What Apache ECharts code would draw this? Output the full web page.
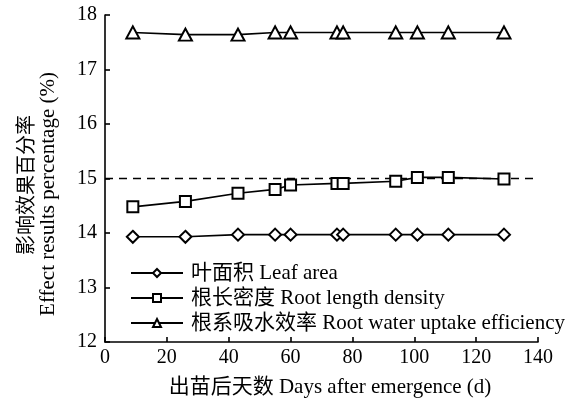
<!DOCTYPE html>
<html><head><meta charset="utf-8">
<script src="https://cdn.jsdelivr.net/npm/echarts@6/dist/echarts.min.js"></script>
<style>html,body{margin:0;padding:0;background:#fff}#c{width:578px;height:403px}</style>
</head><body><div id="c"></div>
<script>
const days = [9, 26, 43, 55, 60, 75, 77, 94, 101, 111, 129];
const leafArea = [13.93, 13.93, 13.97, 13.97, 13.97, 13.97, 13.97, 13.97, 13.97, 13.97, 13.97];
const rootLengthDensity = [14.48, 14.58, 14.73, 14.80, 14.88, 14.91, 14.91, 14.95, 15.02, 15.02, 14.99];
const rootWaterUptake = [17.68, 17.64, 17.64, 17.68, 17.68, 17.68, 17.68, 17.68, 17.68, 17.68, 17.68];
const refLineX = [0, 140];
const refLineY = [15, 15];
const seriesNames = ['叶面积 Leaf area', '根长密度 Root length density', '根系吸水效率 Root water uptake efficiency'];
const xTicks = {min: 0, max: 140, interval: 20};
const yTicks = {min: 12, max: 18, interval: 1};

const FONT = '"Liberation Serif", "Times New Roman", "Noto Sans CJK SC", serif';
const pair = (xs, ys) => xs.map((x, i) => [x, ys[i]]);

const chart = echarts.init(document.getElementById('c'), null, {renderer: 'canvas'});
const lineStyle = {color: '#000', width: 1.6};
chart.setOption({
  animation: false,
  backgroundColor: '#fff',
  grid: {left: 105, right: 40, top: 15, bottom: 61},
  xAxis: {
    type: 'value', min: xTicks.min, max: xTicks.max, interval: xTicks.interval,
    axisLine: {show: true, onZero: false, lineStyle: {color: '#000', width: 1.6}},
    axisTick: {show: true, inside: true, length: 5, lineStyle: {color: '#000', width: 1.6}},
    splitLine: {show: false},
    axisLabel: {color: '#000', fontSize: 20, fontFamily: FONT, margin: 6},
    name: '出苗后天数 Days after emergence (d)',
    nameLocation: 'middle', nameGap: 35,
    nameTextStyle: {color: '#000', fontSize: 21, fontFamily: FONT, padding: [0, 0, 0, 17]}
  },
  yAxis: {
    type: 'value', min: yTicks.min, max: yTicks.max, interval: yTicks.interval,
    axisLine: {show: true, onZero: false, lineStyle: {color: '#000', width: 1.6}},
    axisTick: {show: true, inside: true, length: 5, lineStyle: {color: '#000', width: 1.6}},
    splitLine: {show: false},
    axisLabel: {color: '#000', fontSize: 20, fontFamily: FONT, margin: 8}
  },
  graphic: [
    {type: 'text', x: 28, y: 185, rotation: Math.PI / 2,
     style: {text: '影响效果百分率', fill: '#000', font: '20px ' + FONT, align: 'center', verticalAlign: 'middle'}},
    {type: 'text', x: 48, y: 194, rotation: Math.PI / 2,
     style: {text: 'Effect results percentage (%)', fill: '#000', font: '21px ' + FONT, align: 'center', verticalAlign: 'middle'}}
  ],
  legend: {
    orient: 'vertical', left: 125, top: 257,
    itemWidth: 52, itemHeight: 10, itemGap: 3,
    data: seriesNames,
    textStyle: {color: '#000', fontSize: 21, fontFamily: FONT, lineHeight: 22, padding: [0, 0, 0, 3]}
  },
  series: [
    {name: seriesNames[0], type: 'line', data: pair(days, leafArea), symbol: 'emptyDiamond', symbolSize: 12,
     lineStyle: lineStyle, itemStyle: {color: '#000', borderWidth: 1.5}},
    {name: seriesNames[1], type: 'line', data: pair(days, rootLengthDensity), symbol: 'emptyRect', symbolSize: 11,
     lineStyle: lineStyle, itemStyle: {color: '#000', borderWidth: 1.5}},
    {name: seriesNames[2], type: 'line', data: pair(days, rootWaterUptake), symbol: 'emptyTriangle', symbolSize: [13, 12],
     lineStyle: lineStyle, itemStyle: {color: '#000', borderWidth: 1.5}},
    {name: 'ref', type: 'line', data: pair(refLineX, refLineY), symbol: 'none', silent: true,
     lineStyle: {color: '#000', width: 1.6, type: [8, 6]}}
  ]
});
</script></body></html>
